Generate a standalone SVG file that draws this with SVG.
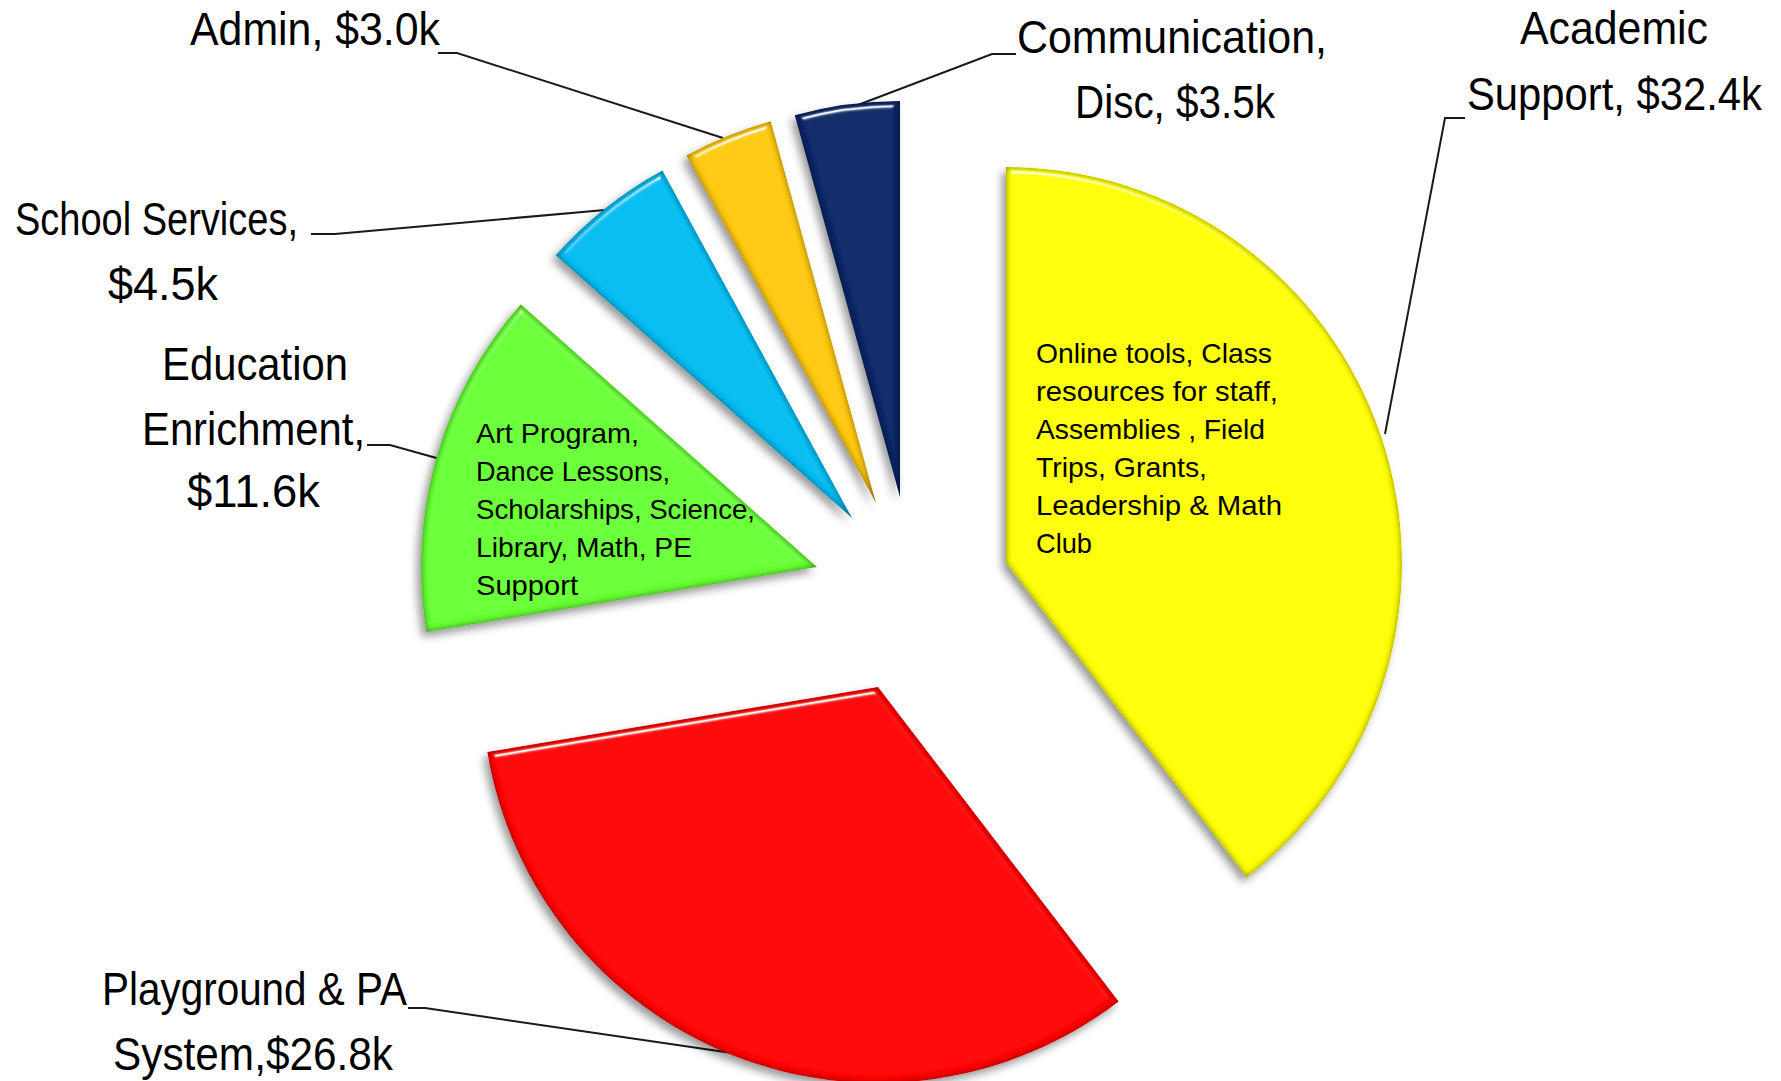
<svg xmlns="http://www.w3.org/2000/svg" width="1781" height="1081" viewBox="0 0 1781 1081">
<style>
.lbl{font-family:"Liberation Sans",Arial,sans-serif;font-size:47px;fill:#000}
.inner{font-family:"Liberation Sans",Arial,sans-serif;font-size:28.5px;fill:#000}
.lead{fill:none;stroke:#1a1a1a;stroke-width:2;stroke-linejoin:miter}
</style>
<defs>
<filter id="bevel" x="-15%" y="-15%" width="130%" height="130%" color-interpolation-filters="sRGB">
  <feOffset in="SourceAlpha" dx="-4" dy="5" result="o"/>
  <feGaussianBlur in="o" stdDeviation="4" result="ob"/>
  <feFlood flood-color="#000" flood-opacity="0.4" result="fc"/>
  <feComposite in="fc" in2="ob" operator="in" result="shadow"/>
  <feGaussianBlur in="SourceAlpha" stdDeviation="3" result="b"/>
  <feComposite in="SourceAlpha" in2="b" operator="arithmetic" k2="1" k3="-1" result="rim"/>
  <feFlood flood-color="#000" flood-opacity="0.5" result="dc"/>
  <feComposite in="dc" in2="rim" operator="in" result="darkrim"/>
  <feSpecularLighting in="b" surfaceScale="5" specularConstant="1" specularExponent="40" lighting-color="#ffffff" result="spec">
    <feDistantLight azimuth="260" elevation="45"/>
  </feSpecularLighting>
  <feComposite in="spec" in2="SourceAlpha" operator="in" result="specin"/>
  <feMerge><feMergeNode in="shadow"/><feMergeNode in="SourceGraphic"/><feMergeNode in="darkrim"/><feMergeNode in="specin"/></feMerge>
</filter>
</defs>
<rect x="0" y="0" width="1781" height="1081" fill="#ffffff"/>

<g id="connectors">
  <path class="lead" d="M438,53 L457,53 L723,138"/>
  <path class="lead" d="M1016,54 L992,54 L850,108"/>
  <path class="lead" d="M1465,118 L1445,118 L1385,434"/>
  <path class="lead" d="M311,234 L335,234 L605,210"/>
  <path class="lead" d="M367,445 L390,445 L440,459"/>
  <path class="lead" d="M408,1008 L425,1008 L732,1053"/>
</g>

<g id="academic-support">
  <path d="M1006,563 L1006,167 A396,396 0 0 1 1246.6,877.5 Z" fill="#ffff00" filter="url(#bevel)"/>
  <text class="inner" x="1036" y="362.7" textLength="236" lengthAdjust="spacingAndGlyphs">Online tools, Class</text>
  <text class="inner" x="1036" y="401" textLength="242" lengthAdjust="spacingAndGlyphs">resources for staff,</text>
  <text class="inner" x="1036" y="439.3" textLength="229" lengthAdjust="spacingAndGlyphs">Assemblies , Field</text>
  <text class="inner" x="1036" y="477.3" textLength="171" lengthAdjust="spacingAndGlyphs">Trips, Grants,</text>
  <text class="inner" x="1036" y="515" textLength="246" lengthAdjust="spacingAndGlyphs">Leadership &amp; Math</text>
  <text class="inner" x="1036" y="553.3" textLength="56" lengthAdjust="spacingAndGlyphs">Club</text>
  <text class="lbl" x="1520" y="44" textLength="188" lengthAdjust="spacingAndGlyphs">Academic</text>
  <text class="lbl" x="1467" y="110" textLength="295" lengthAdjust="spacingAndGlyphs">Support, $32.4k</text>
</g>

<g id="playground-pa">
  <path d="M878,687 L1118.6,1001.5 A396,396 0 0 1 487.4,752.1 Z" fill="#ff0000" filter="url(#bevel)"/>
  <text class="lbl" x="102" y="1005" textLength="305" lengthAdjust="spacingAndGlyphs">Playground &amp; PA</text>
  <text class="lbl" x="113" y="1070" textLength="280" lengthAdjust="spacingAndGlyphs">System,$26.8k</text>
</g>

<g id="education-enrichment">
  <path d="M817,567 L426.4,632.1 A396,396 0 0 1 520.8,304.2 Z" fill="#66ff33" filter="url(#bevel)"/>
  <text class="inner" x="476" y="442.7" textLength="163" lengthAdjust="spacingAndGlyphs">Art Program,</text>
  <text class="inner" x="476" y="481" textLength="194" lengthAdjust="spacingAndGlyphs">Dance Lessons,</text>
  <text class="inner" x="476" y="519.3" textLength="279" lengthAdjust="spacingAndGlyphs">Scholarships, Science,</text>
  <text class="inner" x="476" y="557.3" textLength="216" lengthAdjust="spacingAndGlyphs">Library, Math, PE</text>
  <text class="inner" x="476" y="595" textLength="102" lengthAdjust="spacingAndGlyphs">Support</text>
  <text class="lbl" x="162" y="380" textLength="186" lengthAdjust="spacingAndGlyphs">Education</text>
  <text class="lbl" x="142" y="445" textLength="223" lengthAdjust="spacingAndGlyphs">Enrichment,</text>
  <text class="lbl" x="187" y="507" textLength="133" lengthAdjust="spacingAndGlyphs">$11.6k</text>
</g>

<g id="school-services">
  <path d="M852,518 L555.8,255.2 A396,396 0 0 1 662.4,170.4 Z" fill="#00bcf2" filter="url(#bevel)"/>
  <text class="lbl" x="15" y="235" textLength="283" lengthAdjust="spacingAndGlyphs">School Services,</text>
  <text class="lbl" x="108" y="300" textLength="110" lengthAdjust="spacingAndGlyphs">$4.5k</text>
</g>

<g id="admin">
  <path d="M876,503 L686.4,155.4 A396,396 0 0 1 770.8,121.2 Z" fill="#ffc90e" filter="url(#bevel)"/>
  <text class="lbl" x="190" y="45" textLength="250" lengthAdjust="spacingAndGlyphs">Admin, $3.0k</text>
</g>

<g id="communication-disc">
  <path d="M900,497 L794.8,115.2 A396,396 0 0 1 900,101 Z" fill="#0a2566" filter="url(#bevel)"/>
  <text class="lbl" x="1017" y="53" textLength="310" lengthAdjust="spacingAndGlyphs">Communication,</text>
  <text class="lbl" x="1075" y="118" textLength="200" lengthAdjust="spacingAndGlyphs">Disc, $3.5k</text>
</g>
</svg>
